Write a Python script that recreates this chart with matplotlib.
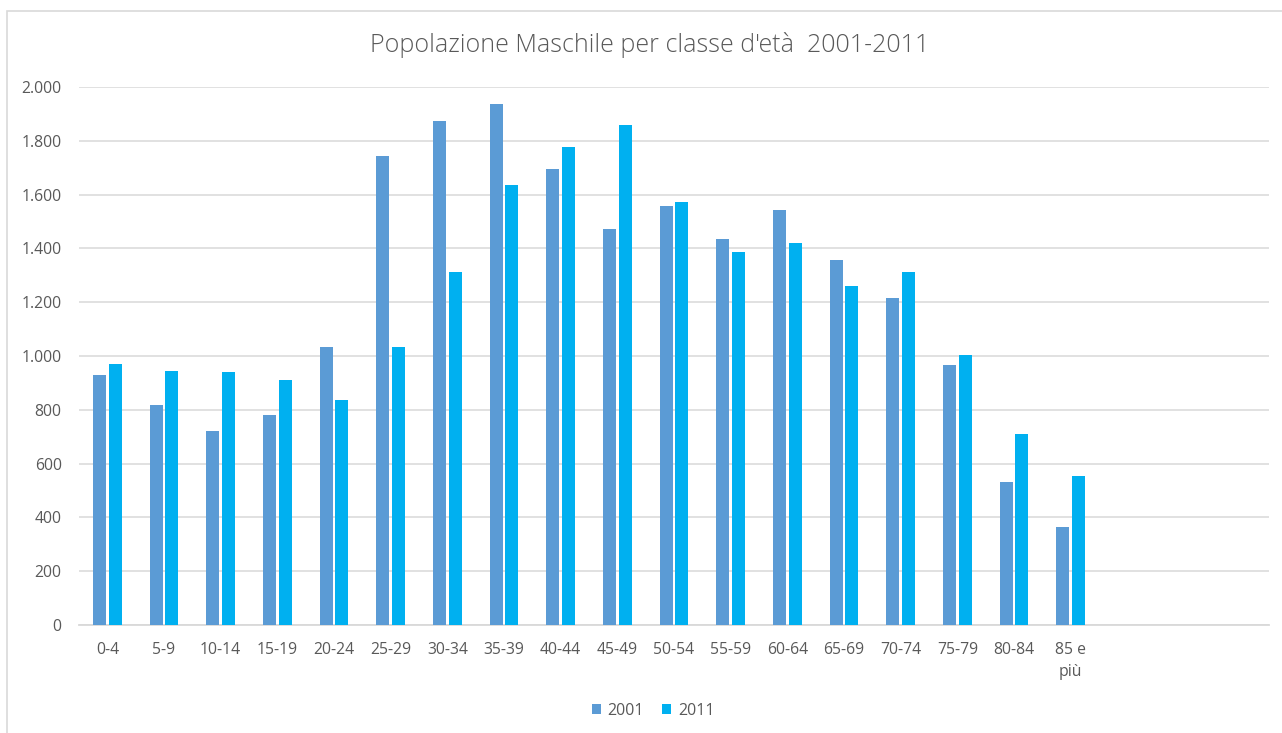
import numpy as np
import matplotlib.pyplot as plt
from matplotlib.patches import Rectangle
from matplotlib.ticker import FuncFormatter

classi = ['0-4', '5-9', '10-14', '15-19', '20-24', '25-29', '30-34', '35-39',
          '40-44', '45-49', '50-54', '55-59', '60-64', '65-69', '70-74',
          '75-79', '80-84', '85 e\npiù', '', '', '']
pop_2001 = [931, 819, 722, 782, 1032, 1743, 1873, 1937, 1695, 1471,
            1557, 1434, 1542, 1356, 1214, 968, 533, 365]
pop_2011 = [972, 946, 942, 912, 838, 1032, 1311, 1635, 1776, 1858,
            1572, 1385, 1419, 1259, 1311, 1002, 711, 555]

grigio = '#595959'
plt.rcParams['font.family'] = ['Open Sans', 'DejaVu Sans']

fig = plt.figure(figsize=(12.82, 7.33), dpi=100)
W, H = 1282, 733
ax = fig.add_axes([79 / W, 1 - 625 / H, 1190 / W, (625 - 87) / H])

# bordo del grafico
fig.patches.append(Rectangle((7 / W, -0.05), 1.2, 1 - 11 / H + 0.05,
                             transform=fig.transFigure, fill=False,
                             edgecolor='#d9d9d9', linewidth=1.2))

x = np.arange(len(classi))
n = len(pop_2001)
w = 0.225
ax.bar(x[:n] - 0.138, pop_2001, width=w, color='#5B9BD5', label='2001', zorder=3)
ax.bar(x[:n] + 0.138, pop_2011, width=w, color='#00B0F0', label='2011', zorder=3)

ax.set_xlim(-0.5, len(classi) - 0.5)
ax.set_ylim(0, 2000)
ax.set_yticks(np.arange(0, 2001, 200))
ax.yaxis.set_major_formatter(FuncFormatter(lambda v, p: f'{int(v):,}'.replace(',', '.')))
ax.grid(axis='y', color='#d9d9d9', linewidth=1.1, zorder=0)
ax.set_xticks(x)
ax.set_xticklabels(classi, linespacing=1.5)
ax.tick_params(axis='both', length=0, colors=grigio, labelsize=11.3)
ax.tick_params(axis='y', pad=12.5)
ax.tick_params(axis='x', pad=12)
for s in ['top', 'right', 'left']:
    ax.spines[s].set_visible(False)
ax.spines['bottom'].set_color('#d9d9d9')
ax.spines['bottom'].set_linewidth(1.3)

fig.text(650 / W, 1 - 45 / H, "Popolazione Maschile per classe d'età  2001-2011",
         ha='center', va='center', fontsize=18, color=grigio, fontweight='light')

fig.legend(loc='center', bbox_to_anchor=(653 / W, 1 - 711 / H), ncol=2, frameon=False,
           fontsize=11.5, labelcolor=grigio, handlelength=0.6, handleheight=0.6,
           handletextpad=0.4, columnspacing=1.1)

fig.savefig('out.png', dpi=100)
